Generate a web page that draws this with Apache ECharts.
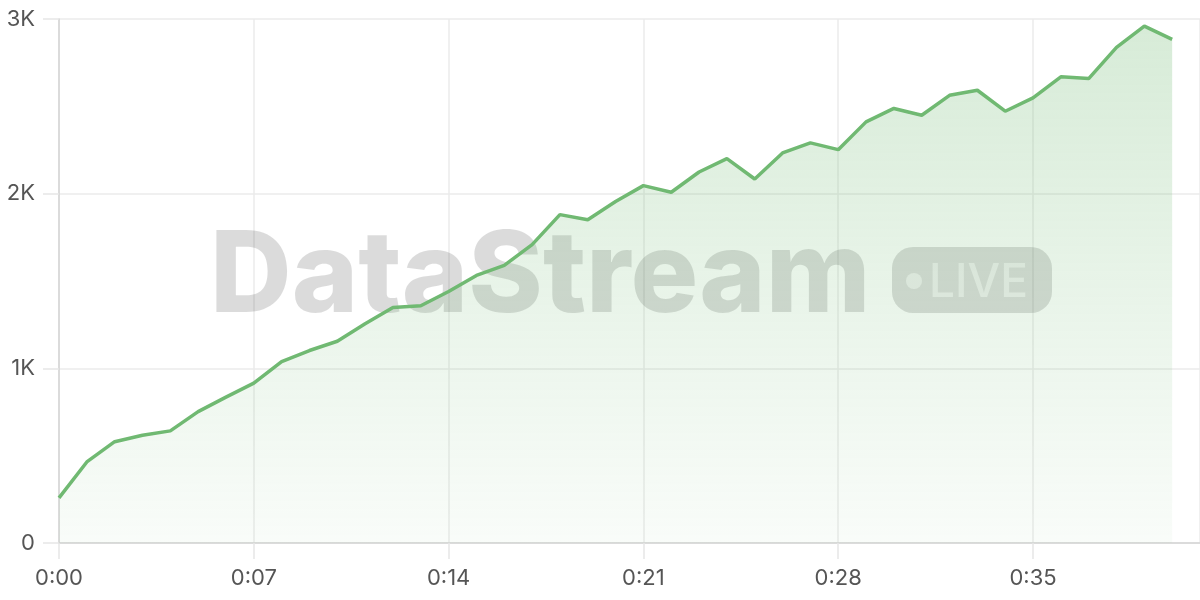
<!DOCTYPE html>
<html>
<head>
<meta charset="utf-8">
<script src="https://cdn.jsdelivr.net/npm/echarts@6/dist/echarts.min.js"></script>
<style>html,body{margin:0;padding:0;background:#fff}#c{width:1200px;height:600px}</style>
</head>
<body>
<div id="c"></div>
<script>
const seconds = [0,1,2,3,4,5,6,7,8,9,10,11,12,13,14,15,16,17,18,19,20,21,22,23,24,25,26,27,28,29,30,31,32,33,34,35,36,37,38,39,40];
const viewers = [258,464,580,617,642,752,835,915,1039,1102,1155,1255,1348,1358,1440,1532,1589,1708,1880,1851,1955,2046,2008,2124,2201,2084,2233,2291,2252,2411,2488,2449,2563,2592,2472,2548,2669,2659,2838,2959,2883];
const yTicks = [0,1000,2000,3000];
const watermark = 'DataStream';
const badge = 'LIVE';

const chart = echarts.init(document.getElementById('c'), null, {renderer:'canvas'});
const green = '#70b972';
chart.setOption({
  animation:false,
  grid:{left:59,right:0,top:19,bottom:57,containLabel:false,outerBoundsMode:'none'},
  xAxis:{
    type:'value',min:0,max:41,interval:7,
    axisLine:{show:true,lineStyle:{color:'#d4d4d4',width:1.5}},
    axisTick:{show:true,length:16,lineStyle:{color:'#e6e6e6',width:1.5}},
    splitLine:{show:true,lineStyle:{color:'#ebebeb',width:1.5}},
    axisLabel:{margin:24,fontSize:22,color:'#555',fontFamily:'Inter',showMaxLabel:false,hideOverlap:false,
      formatter:v=>{const s=Math.round(v);if(s>40)return '';return Math.floor(s/60)+':'+String(s%60).padStart(2,'0');}}
  },
  yAxis:{
    type:'value',min:0,max:3000,interval:1000,
    axisLine:{show:true,lineStyle:{color:'#d4d4d4',width:1.5}},
    axisTick:{show:true,length:16,lineStyle:{color:'#e6e6e6',width:1.5}},
    splitLine:{show:true,lineStyle:{color:'#ebebeb',width:1.5}},
    axisLabel:{margin:24,fontSize:22,color:'#555',fontFamily:'Inter',
      formatter:v=> yTicks.includes(v) ? (v===0?'0':(v/1000)+'K') : ''}
  },
  graphic:[
    {type:'text',z:1,silent:true,style:{x:210,y:278,text:watermark,font:'800 113px Inter',fill:'rgba(0,0,0,0.14)',textVerticalAlign:'middle'}},
    {type:'rect',z:1,silent:true,shape:{x:892,y:247,width:160,height:66,r:21},style:{fill:'rgba(0,0,0,0.14)'}},
    {type:'circle',z:1,silent:true,shape:{cx:914,cy:281,r:8},style:{fill:'rgba(255,255,255,0.55)'}},
    {type:'text',z:1,silent:true,style:{x:929,y:283,text:badge,font:'500 46px Inter',fill:'rgba(255,255,255,0.55)',textVerticalAlign:'middle'}}
  ],
  series:[{
    type:'line',z:5,
    data:seconds.map((s,i)=>[s,viewers[i]]),
    showSymbol:false,symbol:'none',
    lineStyle:{color:green,width:3.5},
    itemStyle:{color:green},
    areaStyle:{color:new echarts.graphic.LinearGradient(0,0,0,1,[
      {offset:0,color:'rgba(112,185,114,0.4)'},
      {offset:1,color:'rgba(112,185,114,0.06)'}
    ])}
  }]
});
</script>
</body>
</html>
